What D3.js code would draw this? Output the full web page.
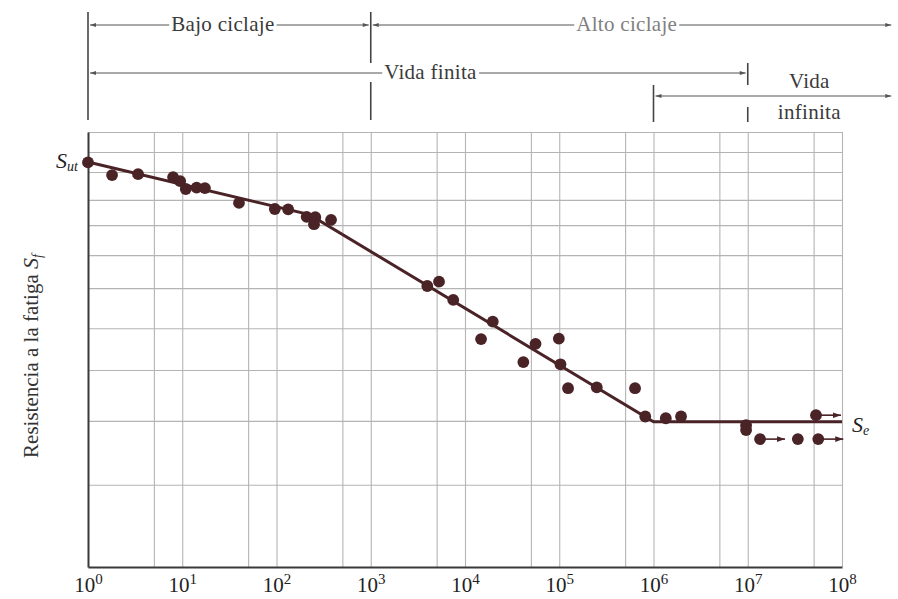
<html>
<head>
<meta charset="utf-8">
<style>
  body { margin: 0; background: #fff; }
  .serif { font-family: "Liberation Serif", "Times New Roman", Times, serif; }
  .grid line { stroke: #b4b4b4; stroke-width: 1.1; }
  .grid path { display: none; }
  .frame path { stroke: #3a3a3a; stroke-width: 2; }
  .frame text { fill: #222; }
  .note line { stroke: #555; stroke-width: 1.1; }
  .note text { fill: #3a3a3a; font-size: 21px; letter-spacing: 0.3px; }
</style>
</head>
<body>
<svg id="chart" width="898" height="599"></svg>
<script src="https://d3js.org/d3.v7.min.js"></script>
<script>
// ---- data (cycles N, strength in % of chart height) ----
var cycles   = [1, 1.8, 3.4, 8.0, 9.5, 10.9, 14.2, 17.4, 40, 96, 133, 209, 258, 250, 379,
                3980, 5300, 7500, 19700, 14800, 56000, 99000, 41600, 103000, 124000, 250000, 637000,
                818000, 1.35e6, 1.96e6, 9.6e6, 9.6e6, 1.35e7, 3.4e7, 5.6e7, 5.3e7];
var strength = [93.0, 90.1, 90.3, 89.6, 88.7, 86.9, 87.2, 87.1, 83.7, 82.3, 82.2, 80.5, 80.4, 78.8, 79.8,
                64.6, 65.6, 61.4, 56.4, 52.4, 51.3, 52.5, 47.1, 46.6, 41.1, 41.3, 41.1,
                34.6, 34.2, 34.6, 32.6, 31.5, 29.4, 29.4, 29.4, 34.9];
var runout   = [0, 0, 0, 0, 0, 0, 0, 0, 0, 0, 0, 0, 0, 0, 0,
                0, 0, 0, 0, 0, 0, 0, 0, 0, 0, 0, 0,
                0, 0, 0, 0, 0, 1, 0, 1, 1];

// fitted S-N curve (knots)
var curveN = [1, 224, 1e6, 1e8];
var curveS = [93.1, 81.0, 33.4, 33.4];

// grid and ticks
var decades = [1, 1e1, 1e2, 1e3, 1e4, 1e5, 1e6, 1e7, 1e8];
var xGrid = [1, 5, 1e1, 5e1, 1e2, 5e2, 1e3, 5e3, 1e4, 5e4, 1e5, 5e5, 1e6, 5e6, 1e7, 5e7, 1e8];
var yGrid = [18.9, 33.6, 45.3, 54.9, 64.1, 71.7, 78.6, 84.4, 90.8, 95.4, 100];
var Sut = 93.1, Se = 33.4;

// ---- chart ----
var svg = d3.select("#chart");
var pLeft = 88, pRight = 842, pTop = 132, pBottom = 567;
var dark = "#4a2327";

var x = d3.scaleLog().domain([1, 1e8]).range([pLeft, pRight]);
var y = d3.scaleLinear().domain([0, 100]).range([pBottom, pTop]);

// grid
svg.append("g").attr("class", "grid")
  .attr("transform", "translate(0," + pBottom + ")")
  .call(d3.axisBottom(x).tickValues(xGrid).tickSize(-(pBottom - pTop)).tickFormat(""));
svg.append("g").attr("class", "grid")
  .attr("transform", "translate(" + pLeft + ",0)")
  .call(d3.axisLeft(y).tickValues(yGrid).tickSize(-(pRight - pLeft)).tickFormat(""));

// bottom axis + labels 10^n
var xAxis = svg.append("g").attr("class", "frame serif")
  .attr("transform", "translate(0," + pBottom + ")")
  .call(d3.axisBottom(x).tickValues(decades).tickSize(0).tickSizeOuter(0).tickPadding(10));
xAxis.selectAll(".tick text")
  .style("font-size", "21px")
  .text("10")
  .append("tspan")
  .attr("dy", "-0.5em")
  .style("font-size", "15px")
  .text(function(d) { return Math.round(Math.log10(d)); });

svg.append("g").attr("class", "frame")
  .attr("transform", "translate(" + pLeft + ",0)")
  .call(d3.axisLeft(y).tickValues([]).tickSizeOuter(0));

// S-N curve
var pts = curveN.map(function(n, i) { return [n, curveS[i]]; });
svg.append("path")
  .datum(pts)
  .attr("fill", "none")
  .attr("stroke", dark)
  .attr("stroke-width", 3)
  .attr("d", d3.line().x(function(d) { return x(d[0]); }).y(function(d) { return y(d[1]); }));

// arrowheads
var defs = svg.append("defs");
defs.append("marker").attr("id", "runHead")
  .attr("viewBox", "0 0 10 10").attr("refX", 10).attr("refY", 5)
  .attr("markerWidth", 12).attr("markerHeight", 8).attr("markerUnits", "userSpaceOnUse")
  .attr("orient", "auto")
  .append("path").attr("d", "M0,1.5 L10,5 L0,8.5 Z").attr("fill", dark);
defs.append("marker").attr("id", "noteHead")
  .attr("viewBox", "0 0 10 10").attr("refX", 10).attr("refY", 5)
  .attr("markerWidth", 11).attr("markerHeight", 6).attr("markerUnits", "userSpaceOnUse")
  .attr("orient", "auto-start-reverse")
  .append("path").attr("d", "M0,1.5 L10,5 L0,8.5 Z").attr("fill", "#555");

// points
var data = cycles.map(function(n, i) { return { n: n, s: strength[i], run: runout[i] }; });
svg.selectAll(".run")
  .data(data.filter(function(d) { return d.run; }))
  .enter().append("line")
  .attr("x1", function(d) { return x(d.n) + 4; })
  .attr("x2", function(d) { return x(d.n) + 25; })
  .attr("y1", function(d) { return y(d.s); })
  .attr("y2", function(d) { return y(d.s); })
  .attr("stroke", dark).attr("stroke-width", 1.6)
  .attr("marker-end", "url(#runHead)");
svg.selectAll(".dot")
  .data(data)
  .enter().append("circle")
  .attr("cx", function(d) { return x(d.n); })
  .attr("cy", function(d) { return y(d.s); })
  .attr("r", 5.9)
  .attr("fill", dark);

// S_ut and S_e labels
var sut = svg.append("text").attr("class", "serif")
  .attr("x", pLeft - 10).attr("y", y(Sut) + 6)
  .attr("text-anchor", "end").style("font-style", "italic").style("font-size", "22px").attr("fill", "#222")
  .text("S");
sut.append("tspan").attr("dy", "0.22em").style("font-size", "14px").text("ut");
var se = svg.append("text").attr("class", "serif")
  .attr("x", pRight + 10).attr("y", y(Se) + 10)
  .style("font-style", "italic").style("font-size", "22px").attr("fill", "#222")
  .text("S");
se.append("tspan").attr("dy", "0.22em").style("font-size", "14px").text("e");

// y label
var yl = svg.append("text").attr("class", "serif")
  .attr("transform", "translate(38,356) rotate(-90)")
  .attr("text-anchor", "middle").style("font-size", "21px").attr("fill", "#333")
  .text("Resistencia a la fatiga ");
yl.append("tspan").style("font-style", "italic").style("font-size", "22px").text("S");
yl.append("tspan").attr("dy", "0.25em").style("font-style", "italic").style("font-size", "14px").text("f");

// ---- top annotations ----
var note = svg.append("g").attr("class", "note serif");
var spans = [
  { a: 1, b: 1e3, y: 25, label: "Bajo ciclaje", at: 27, col: "#3a3a3a" },
  { a: 1e3, b: 3.5e8, y: 25, label: "Alto ciclaje", at: 5.2e5, col: "#808080" },
  { a: 1, b: 1e7, y: 73, label: "Vida finita", at: 4300, col: "#3a3a3a" },
  { a: 1e6, b: 3.5e8, y: 96, label: "", at: 0, col: "#3a3a3a" }
];
var bars = [
  { n: 1, y1: 12, y2: 120 },
  { n: 1e3, y1: 12, y2: 63 }, { n: 1e3, y1: 82, y2: 120 },
  { n: 1e7, y1: 63, y2: 85 }, { n: 1e7, y1: 107, y2: 122 },
  { n: 1e6, y1: 85, y2: 122 }
];
note.selectAll(".bar").data(bars).enter().append("line")
  .attr("x1", function(d) { return x(d.n); }).attr("x2", function(d) { return x(d.n); })
  .attr("y1", function(d) { return d.y1; }).attr("y2", function(d) { return d.y2; })
  .style("stroke", "#444").style("stroke-width", 1.6);
note.selectAll(".span").data(spans).enter().append("line")
  .attr("x1", function(d) { return x(d.a) + 2; }).attr("x2", function(d) { return x(d.b) - 2; })
  .attr("y1", function(d) { return d.y; }).attr("y2", function(d) { return d.y; })
  .attr("marker-start", "url(#noteHead)").attr("marker-end", "url(#noteHead)");
var labs = note.selectAll(".lab").data(spans.filter(function(d) { return d.label; })).enter().append("g");
labs.append("text")
  .attr("x", function(d) { return x(d.at); }).attr("y", function(d) { return d.y + 6; })
  .attr("text-anchor", "middle")
  .style("fill", function(d) { return d.col; })
  .text(function(d) { return d.label; });
// white gap behind the labels so the arrow line stops at the text
labs.each(function() {
  var t = d3.select(this).select("text"), b = t.node().getBBox();
  d3.select(this).insert("rect", "text")
    .attr("x", b.x - 2).attr("y", b.y).attr("width", b.width + 4).attr("height", b.height)
    .attr("fill", "#fff");
});
note.append("text").attr("x", x(4.5e7)).attr("y", 88).attr("text-anchor", "middle").text("Vida");
note.append("text").attr("x", x(4.5e7)).attr("y", 119).attr("text-anchor", "middle").text("infinita");
</script>
</body>
</html>
